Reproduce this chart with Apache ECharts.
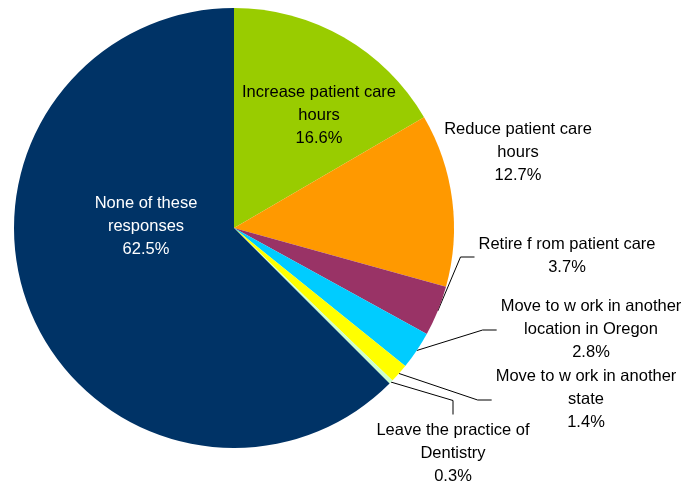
<!DOCTYPE html>
<html>
<head>
<meta charset="utf-8">
<script src="https://cdn.jsdelivr.net/npm/echarts@6/dist/echarts.min.js"></script>
<style>
  html, body { margin: 0; padding: 0; background: #fff; }
  #chart { width: 687px; height: 486px; }
</style>
</head>
<body>
<div id="chart"></div>
<script>
// categories and values (percent of responses)
var categories = [
	'Increase patient care hours',
	'Reduce patient care hours',
	'Retire from patient care',
	'Move to work in another location in Oregon',
	'Move to work in another state',
	'Leave the practice of Dentistry',
	'None of these responses'
];
// label text as it wraps in the picture
var labelNames = [
	'Increase patient care\nhours',
	'Reduce patient care\nhours',
	'Retire f rom patient care',
	'Move to w ork in another\nlocation in Oregon',
	'Move to w ork in another\nstate',
	'Leave the practice of\nDentistry',
	'None of these\nresponses'
];
var values = [16.6, 12.7, 3.7, 2.8, 1.4, 0.3, 62.5];

var colors = ['#99CC00', '#FF9900', '#993366', '#00CCFF', '#FFFF00', '#CCFFCC', '#003366'];
var labelColors = ['#000', '#000', '#000', '#000', '#000', '#000', '#fff'];

// label centres and leader style (none / left / top)
var labelPos = [[319, 115], [518, 152], [567, 256], [591, 329], [586, 399], [453, 453], [146, 226]];
var leader = ['none', 'none', 'left', 'left', 'left', 'top', 'none'];

var seriesData = [];
for (var i = 0; i < categories.length; i++) {
	seriesData.push({
		name: categories[i],
		value: values[i],
		itemStyle: { color: colors[i] },
		label: { color: labelColors[i] },
		labelLine: { show: leader[i] != 'none' }
	});
}

var myChart = echarts.init(document.getElementById('chart'));
var option = {
	animation: false,
	series: [{
		type: 'pie',
		center: [234, 228],
		radius: 220,
		startAngle: 90,
		clockwise: true,
		avoidLabelOverlap: false,
		itemStyle: { borderWidth: 0 },
		label: {
			show: true,
			position: 'outside',
			fontFamily: 'Liberation Sans, Arial, sans-serif',
			fontSize: 16.5,
			lineHeight: 23,
			formatter: function(p){
				return labelNames[p.dataIndex] + '\n' + p.value.toFixed(1) + '%';
			}
		},
		labelLine: {
			show: true,
			lineStyle: { color: '#000', width: 1 }
		},
		labelLayout: function(params){
			var idx = params.dataIndex;
			var x = labelPos[idx][0];
			var y = labelPos[idx][1];
			var w = params.labelRect.width;
			var h = params.labelRect.height;
			var res = { x: x, y: y, align: 'center', verticalAlign: 'middle' };
			var pts = params.labelLinePoints;
			if (pts && leader[idx] == 'left') {
				var end = [x - w / 2 - 4, y + 1];
				res.labelLinePoints = [pts[0], [end[0] - 14, end[1]], end];
			} else if (pts && leader[idx] == 'top') {
				var end2 = [x, y - h / 2 - 4];
				res.labelLinePoints = [pts[0], [x, end2[1] - 14], end2];
			}
			return res;
		},
		data: seriesData
	}]
};
myChart.setOption(option);
</script>
</body>
</html>
